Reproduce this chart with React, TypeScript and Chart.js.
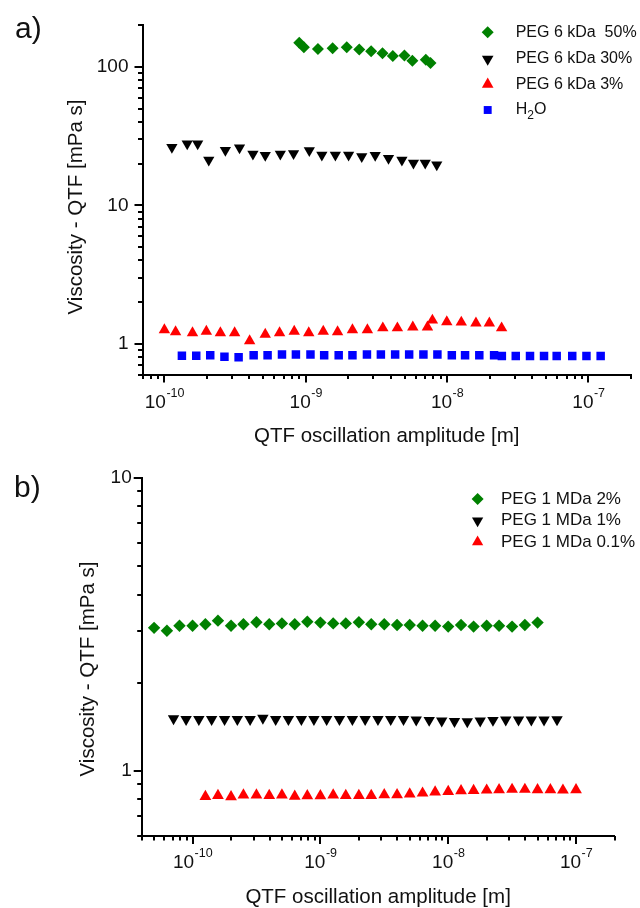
import React, { useEffect, useRef } from 'react';
import { Chart, registerables } from 'chart.js';

Chart.register(...registerables);

// ---------------- Panel a data ----------------
const peg6k50X = [9.0e-10, 9.7e-10, 1.22e-9, 1.55e-9, 1.95e-9, 2.39e-9, 2.9e-9, 3.49e-9, 4.13e-9, 4.99e-9, 5.68e-9, 7.07e-9, 7.63e-9];
const peg6k50Y = [150, 139, 135, 137, 139, 134, 130, 126, 120, 121, 111, 113, 107];

const peg6k30X = [1.13e-10, 1.45e-10, 1.72e-10, 2.06e-10, 2.7e-10, 3.4e-10, 4.23e-10, 5.17e-10, 6.61e-10, 8.2e-10, 1.06e-9, 1.3e-9, 1.62e-9, 2.01e-9, 2.49e-9, 3.1e-9, 3.85e-9, 4.79e-9, 5.78e-9, 7.0e-9, 8.45e-9];
const peg6k30Y = [26.3, 27.9, 27.9, 21.3, 25.0, 26.1, 23.5, 23.0, 23.5, 23.7, 24.9, 23.1, 23.1, 23.1, 22.6, 23.0, 21.9, 21.3, 20.3, 20.3, 19.7];

const peg6k3X = [1.0e-10, 1.2e-10, 1.58e-10, 1.98e-10, 2.49e-10, 3.14e-10, 4.01e-10, 5.17e-10, 6.53e-10, 8.29e-10, 1.05e-9, 1.33e-9, 1.68e-9, 2.14e-9, 2.73e-9, 3.51e-9, 4.45e-9, 5.72e-9, 7.26e-9, 7.87e-9, 9.95e-9, 1.26e-8, 1.6e-8, 1.99e-8, 2.43e-8];
const peg6k3Y = [1.26, 1.22, 1.2, 1.23, 1.2, 1.2, 1.05, 1.17, 1.2, 1.23, 1.2, 1.23, 1.22, 1.26, 1.26, 1.3, 1.3, 1.32, 1.32, 1.48, 1.44, 1.43, 1.41, 1.41, 1.3];

const h2oX = [1.33e-10, 1.68e-10, 2.11e-10, 2.66e-10, 3.35e-10, 4.28e-10, 5.37e-10, 6.79e-10, 8.52e-10, 1.08e-9, 1.35e-9, 1.71e-9, 2.14e-9, 2.71e-9, 3.4e-9, 4.29e-9, 5.39e-9, 6.8e-9, 8.54e-9, 1.08e-8, 1.34e-8, 1.69e-8, 2.15e-8, 2.44e-8, 3.06e-8, 3.86e-8, 4.85e-8, 5.96e-8, 7.68e-8, 9.68e-8, 1.22e-7];
const h2oY = [0.82, 0.82, 0.828, 0.807, 0.801, 0.828, 0.828, 0.837, 0.837, 0.837, 0.828, 0.828, 0.828, 0.837, 0.837, 0.837, 0.837, 0.837, 0.837, 0.828, 0.828, 0.828, 0.828, 0.815, 0.815, 0.815, 0.815, 0.815, 0.815, 0.815, 0.815];

// ---------------- Panel b data ----------------
const peg1M2X = [5.0e-11, 6.3e-11, 7.9e-11, 1.0e-10, 1.26e-10, 1.58e-10, 2.0e-10, 2.5e-10, 3.16e-10, 3.98e-10, 5.0e-10, 6.3e-10, 7.9e-10, 1.0e-9, 1.26e-9, 1.58e-9, 2.0e-9, 2.5e-9, 3.16e-9, 3.98e-9, 5.0e-9, 6.3e-9, 7.9e-9, 1.0e-8, 1.26e-8, 1.58e-8, 2.0e-8, 2.5e-8, 3.16e-8, 3.98e-8, 5.0e-8];
const peg1M2Y = [3.08, 3.01, 3.13, 3.13, 3.17, 3.26, 3.13, 3.17, 3.22, 3.17, 3.19, 3.17, 3.23, 3.21, 3.19, 3.19, 3.22, 3.17, 3.17, 3.15, 3.15, 3.13, 3.13, 3.11, 3.15, 3.11, 3.13, 3.13, 3.11, 3.15, 3.21];

const peg1M1X = [7.1e-11, 8.9e-11, 1.12e-10, 1.41e-10, 1.78e-10, 2.24e-10, 2.82e-10, 3.55e-10, 4.47e-10, 5.62e-10, 7.1e-10, 8.9e-10, 1.12e-9, 1.41e-9, 1.78e-9, 2.24e-9, 2.82e-9, 3.55e-9, 4.47e-9, 5.62e-9, 7.1e-9, 8.9e-9, 1.12e-8, 1.41e-8, 1.78e-8, 2.24e-8, 2.82e-8, 3.55e-8, 4.47e-8, 5.62e-8, 7.1e-8];
const peg1M1Y = [1.51, 1.5, 1.5, 1.5, 1.5, 1.5, 1.5, 1.515, 1.5, 1.5, 1.5, 1.5, 1.5, 1.5, 1.5, 1.5, 1.5, 1.5, 1.5, 1.495, 1.49, 1.483, 1.478, 1.475, 1.483, 1.49, 1.495, 1.495, 1.495, 1.495, 1.498];

const peg1M01X = [1.26e-10, 1.58e-10, 2.0e-10, 2.5e-10, 3.16e-10, 3.98e-10, 5.0e-10, 6.3e-10, 7.9e-10, 1.0e-9, 1.26e-9, 1.58e-9, 2.0e-9, 2.5e-9, 3.16e-9, 3.98e-9, 5.0e-9, 6.3e-9, 7.9e-9, 1.0e-8, 1.26e-8, 1.58e-8, 2.0e-8, 2.5e-8, 3.16e-8, 3.98e-8, 5.0e-8, 6.3e-8, 7.9e-8, 1.0e-7];
const peg1M01Y = [0.818, 0.825, 0.816, 0.827, 0.827, 0.825, 0.827, 0.82, 0.823, 0.823, 0.827, 0.825, 0.825, 0.825, 0.829, 0.829, 0.834, 0.84, 0.847, 0.851, 0.856, 0.858, 0.86, 0.863, 0.865, 0.865, 0.863, 0.863, 0.86, 0.863];

// ---------------- tick labels ----------------
const yLabelsA = [1, 10, 100];
const yLabelsB = [1, 10];
const xDecades = [1e-10, 1e-9, 1e-8, 1e-7];
const mantissas = [1, 2, 3, 4, 5, 6, 7, 8, 9];

const FONT = '"Liberation Sans", Arial, Helvetica, sans-serif';
const TEXT = '#111';
const X_TITLE = 'QTF oscillation amplitude [m]';
const Y_TITLE = 'Viscosity - QTF [mPa s]';

type MStyle = 'rectRot' | 'rect' | 'triUp' | 'triDown';
interface Marker { style: MStyle; color: string; r: number }
interface Series { label: string; x: number[]; y: number[]; marker: Marker }
interface LegendItem { marker: Marker; parts: { t: string; sub?: boolean }[] }

const GREEN = '#008000';
const BLACK = '#000000';
const RED = '#ff0000';
const BLUE = '#0000ff';

function pts(xs: number[], ys: number[]) {
  return xs.map((x, i) => ({ x, y: ys[i] }));
}

function isMajor(v: number) {
  const l = Math.log10(v);
  return Math.abs(l - Math.round(l)) < 1e-9;
}

function logTicks(min: number, max: number): number[] {
  const out: number[] = [];
  const e0 = Math.floor(Math.log10(min));
  const e1 = Math.ceil(Math.log10(max));
  for (let e = e0; e <= e1; e++) {
    for (const m of mantissas) {
      const v = parseFloat((m * Math.pow(10, e)).toPrecision(6));
      if (v >= min * 0.9999 && v <= max * 1.0001) out.push(v);
    }
  }
  return out;
}

function drawMarker(ctx: CanvasRenderingContext2D, m: Marker, x: number, y: number) {
  const r = m.r;
  ctx.save();
  ctx.fillStyle = m.color;
  ctx.beginPath();
  if (m.style === 'rectRot') {
    ctx.moveTo(x - r, y);
    ctx.lineTo(x, y - r);
    ctx.lineTo(x + r, y);
    ctx.lineTo(x, y + r);
  } else if (m.style === 'rect') {
    const s = r * Math.SQRT1_2;
    ctx.rect(x - s, y - s, 2 * s, 2 * s);
  } else if (m.style === 'triUp') {
    ctx.moveTo(x, y - r);
    ctx.lineTo(x + r * 0.866, y + r / 2);
    ctx.lineTo(x - r * 0.866, y + r / 2);
  } else {
    ctx.moveTo(x, y + r);
    ctx.lineTo(x + r * 0.866, y - r / 2);
    ctx.lineTo(x - r * 0.866, y - r / 2);
  }
  ctx.closePath();
  ctx.fill();
  ctx.restore();
}

interface Panel {
  series: Series[];
  legend: LegendItem[];
  xMin: number; xMax: number; yMin: number; yMax: number;
  yLabels: number[];
  padTop: number; padRight: number;
  yAxisWidth: number; xAxisHeight: number;
  yTickPad: number; xTitlePad: number; xLabelOffset: number;
  yTitleX: number; yTitleY: number;
  label: string; labelX: number; labelY: number;
  legendMarkerX: number; legendTextX: number; legendRows: number[]; legendFont: number;
}

const mA = {
  d: { style: 'rectRot', color: GREEN, r: 6 } as Marker,
  td: { style: 'triDown', color: BLACK, r: 6.5 } as Marker,
  tu: { style: 'triUp', color: RED, r: 6.6 } as Marker,
  s: { style: 'rect', color: BLUE, r: 6 } as Marker,
};
const mB = {
  d: { style: 'rectRot', color: GREEN, r: 6.2 } as Marker,
  td: { style: 'triDown', color: BLACK, r: 6.6 } as Marker,
  tu: { style: 'triUp', color: RED, r: 6.8 } as Marker,
};

const panelA: Panel = {
  series: [
    { label: 'PEG 6 kDa  50%', x: peg6k50X, y: peg6k50Y, marker: mA.d },
    { label: 'PEG 6 kDa 30%', x: peg6k30X, y: peg6k30Y, marker: mA.td },
    { label: 'PEG 6 kDa 3%', x: peg6k3X, y: peg6k3Y, marker: mA.tu },
    { label: 'H2O', x: h2oX, y: h2oY, marker: mA.s },
  ],
  legend: [
    { marker: { ...mA.d, r: 6 }, parts: [{ t: 'PEG 6 kDa  50%' }] },
    { marker: { ...mA.td, r: 6.7 }, parts: [{ t: 'PEG 6 kDa 30%' }] },
    { marker: { ...mA.tu, r: 6.7 }, parts: [{ t: 'PEG 6 kDa 3%' }] },
    { marker: { ...mA.s, r: 5.6 }, parts: [{ t: 'H' }, { t: '2', sub: true }, { t: 'O' }] },
  ],
  xMin: 7e-11, xMax: 2e-7, yMin: 0.6, yMax: 200,
  yLabels: yLabelsA,
  padTop: 14, padRight: 9,
  yAxisWidth: 142.5, xAxisHeight: 79.5,
  yTickPad: 14, xTitlePad: 5, xLabelOffset: 33.5,
  yTitleX: 76, yTitleY: 207,
  label: 'a)', labelX: 15, labelY: 37.5,
  legendMarkerX: 487.7, legendTextX: 515.7, legendRows: [32.3, 59, 84.3, 110], legendFont: 16,
};

const panelB: Panel = {
  series: [
    { label: 'PEG 1 MDa 2%', x: peg1M2X, y: peg1M2Y, marker: mB.d },
    { label: 'PEG 1 MDa 1%', x: peg1M1X, y: peg1M1Y, marker: mB.td },
    { label: 'PEG 1 MDa 0.1%', x: peg1M01X, y: peg1M01Y, marker: mB.tu },
  ],
  legend: [
    { marker: { ...mB.d, r: 6 }, parts: [{ t: 'PEG 1 MDa 2%' }] },
    { marker: { ...mB.td, r: 6.5 }, parts: [{ t: 'PEG 1 MDa 1%' }] },
    { marker: { ...mB.tu, r: 6.5 }, parts: [{ t: 'PEG 1 MDa 0.1%' }] },
  ],
  xMin: 4e-11, xMax: 2e-7, yMin: 0.6, yMax: 10,
  yLabels: yLabelsB,
  padTop: 24, padRight: 25.5,
  yAxisWidth: 141.7, xAxisHeight: 72,
  yTickPad: 10, xTitlePad: -2, xLabelOffset: 32,
  yTitleX: 88.8, yTitleY: 215,
  label: 'b)', labelX: 14, labelY: 43,
  legendMarkerX: 477.6, legendTextX: 501, legendRows: [45, 66.7, 88], legendFont: 17,
};

function decorPlugin(p: Panel) {
  return {
    id: 'decor',
    afterDraw(chart: any) {
      const ctx: CanvasRenderingContext2D = chart.ctx;
      const area = chart.chartArea;
      const xs = chart.scales.x;
      const ys = chart.scales.y;
      ctx.save();
      // tick marks (outward)
      ctx.strokeStyle = '#000';
      ctx.lineWidth = 2;
      for (const v of logTicks(p.xMin, p.xMax)) {
        const px = Math.round(xs.getPixelForValue(v));
        const len = isMajor(v) ? 8 : 4.5;
        ctx.beginPath();
        ctx.moveTo(px, area.bottom);
        ctx.lineTo(px, area.bottom + len);
        ctx.stroke();
      }
      for (const v of logTicks(p.yMin, p.yMax)) {
        const py = Math.round(ys.getPixelForValue(v));
        const len = isMajor(v) ? 8 : 4.5;
        ctx.beginPath();
        ctx.moveTo(area.left, py);
        ctx.lineTo(area.left - len, py);
        ctx.stroke();
      }
      // x tick labels with superscript exponent
      ctx.fillStyle = TEXT;
      ctx.textAlign = 'left';
      ctx.textBaseline = 'alphabetic';
      for (const v of xDecades) {
        if (v < p.xMin || v > p.xMax) continue;
        const px = xs.getPixelForValue(v);
        const exp = String(Math.round(Math.log10(v)));
        ctx.font = `19px ${FONT}`;
        const w1 = ctx.measureText('10').width;
        ctx.font = `12.5px ${FONT}`;
        const w2 = ctx.measureText(exp).width;
        const x0 = px - (w1 + w2) / 2;
        const by = area.bottom + p.xLabelOffset;
        ctx.font = `19px ${FONT}`;
        ctx.fillText('10', x0, by);
        ctx.font = `12.5px ${FONT}`;
        ctx.fillText(exp, x0 + w1 + 0.5, by - 11);
      }
      // y title
      ctx.save();
      ctx.translate(p.yTitleX, p.yTitleY);
      ctx.rotate(-Math.PI / 2);
      ctx.textAlign = 'center';
      ctx.textBaseline = 'middle';
      ctx.font = `20.5px ${FONT}`;
      ctx.fillText(Y_TITLE, 0, 0);
      ctx.restore();
      // panel label
      ctx.textAlign = 'left';
      ctx.textBaseline = 'alphabetic';
      ctx.font = `30px ${FONT}`;
      ctx.fillText(p.label, p.labelX, p.labelY);
      // legend
      p.legend.forEach((it, i) => {
        const y = p.legendRows[i];
        drawMarker(ctx, it.marker, p.legendMarkerX, y);
        let x = p.legendTextX;
        ctx.textBaseline = 'middle';
        for (const part of it.parts) {
          if (part.sub) {
            ctx.font = `12px ${FONT}`;
            ctx.fillText(part.t, x, y + 6);
          } else {
            ctx.font = `${p.legendFont}px ${FONT}`;
            ctx.fillText(part.t, x, y);
          }
          x += ctx.measureText(part.t).width;
        }
      });
      ctx.restore();
    },
  };
}

function buildConfig(p: Panel): any {
  return {
    type: 'scatter',
    data: {
      datasets: p.series.map((s) => ({
        label: s.label,
        data: pts(s.x, s.y),
        pointStyle: s.marker.style === 'rectRot' ? 'rectRot' : s.marker.style === 'rect' ? 'rect' : 'triangle',
        pointRotation: s.marker.style === 'triDown' ? 180 : 0,
        pointRadius: s.marker.r,
        pointHoverRadius: s.marker.r,
        backgroundColor: s.marker.color,
        borderColor: s.marker.color,
        borderWidth: 0,
        showLine: false,
      })),
    },
    options: {
      animation: false,
      responsive: false,
      maintainAspectRatio: false,
      events: [],
      layout: { padding: { left: 0, top: p.padTop, right: p.padRight, bottom: 0 } },
      plugins: { legend: { display: false }, tooltip: { enabled: false } },
      scales: {
        x: {
          type: 'logarithmic',
          position: 'bottom',
          min: p.xMin,
          max: p.xMax,
          bounds: 'data',
          afterFit: (s: any) => { s.height = p.xAxisHeight; },
          afterBuildTicks: (s: any) => {
            s.ticks = logTicks(p.xMin, p.xMax).map((v) => ({ value: v, major: isMajor(v) }));
          },
          ticks: { display: false },
          grid: { display: false, drawTicks: false },
          border: { display: true, color: '#000', width: 2 },
          title: {
            display: true,
            text: X_TITLE,
            color: TEXT,
            font: { family: FONT, size: 20.5 },
            padding: { top: 0, bottom: p.xTitlePad },
          },
        },
        y: {
          type: 'logarithmic',
          position: 'left',
          min: p.yMin,
          max: p.yMax,
          bounds: 'data',
          afterFit: (s: any) => { s.width = p.yAxisWidth; },
          afterBuildTicks: (s: any) => {
            s.ticks = logTicks(p.yMin, p.yMax).map((v) => ({ value: v, major: isMajor(v) }));
          },
          ticks: {
            autoSkip: false,
            padding: p.yTickPad,
            color: TEXT,
            font: { family: FONT, size: 19 },
            callback: (v: any) => (p.yLabels.includes(Number(v)) ? String(Number(v)) : ''),
          },
          grid: { display: false, drawTicks: false },
          border: { display: true, color: '#000', width: 2 },
          title: { display: false },
        },
      },
    },
    plugins: [decorPlugin(p)],
  };
}

export default function App() {
  const refA = useRef<HTMLCanvasElement>(null);
  const refB = useRef<HTMLCanvasElement>(null);
  useEffect(() => {
    const a = new Chart(refA.current as HTMLCanvasElement, buildConfig(panelA));
    const b = new Chart(refB.current as HTMLCanvasElement, buildConfig(panelB));
    return () => {
      a.destroy();
      b.destroy();
    };
  }, []);
  return (
    <div style={{ position: 'absolute', left: 0, top: 0, width: 640, height: 908, background: '#fff', overflow: 'hidden' }}>
      <canvas ref={refA} width={640} height={454} style={{ position: 'absolute', left: 0, top: 0, width: 640, height: 454, display: 'block' }} />
      <canvas ref={refB} width={640} height={454} style={{ position: 'absolute', left: 0, top: 454, width: 640, height: 454, display: 'block' }} />
    </div>
  );
}
